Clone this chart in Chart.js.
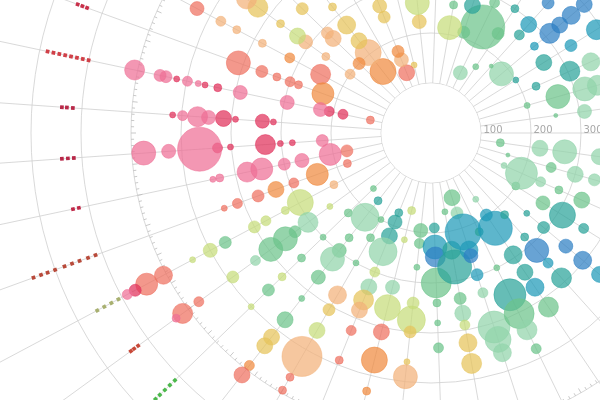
<!DOCTYPE html>
<html>
<head>
<meta charset="utf-8">
<script src="https://cdn.jsdelivr.net/npm/chart.js@4"></script>
<style>
  html, body { margin: 0; padding: 0; background: #fff; }
  #wrap { width: 600px; height: 400px; }
</style>
</head>
<body>
<div id="wrap"><canvas id="radial"></canvas></div>
<script>
// merkez ve yarıçap ölçeği (piksel = 50 + değer / 2)
const center = { x: 431, y: 133 };
const ringValues = [100, 200, 300, 400, 500, 600, 700];
const axisLabels = ['100', '200', '300'];
const tickRingValue = 500;

// renk paleti
const palette = {
    c: '#e0305a', p: '#ee6f95', s: '#ee7060', o: '#f08a40', q: '#f2b27a',
    y: '#e6c45a', l: '#c6dc7a', g: '#6cc48a', m: '#92d4ab', t: '#2ba39a',
    b: '#1f9ab8', u: '#2e7fc4'
};

// her kol (spoke) için açı, değerler, boyutlar ve renkler
const spokeAngles = [8, 16, 24, 32, 40, 48, 56, 64, 72, 80, 88, 96, 104, 112, 120, 128, 136, 144, 152, 160, 168, 176, 184, 192, 200, 208, 216, 224, 232, 248, 256, 264, 280, 288, 296, 304, 312, 320, 328, 336, 344, 352];
const bubbleValues = [
    [40, 120, 170, 240, 320, 440],
    [60, 150, 200, 240, 290, 340],
    [60, 98, 140, 180, 230, 300],
    [100, 164, 210, 260, 330],
    [150, 194, 252, 296, 340],
    [120, 180, 216, 250, 290],
    [60, 98, 130, 194, 236, 272, 320],
    [120, 200, 260, 302, 338, 380],
    [36, 68, 108, 146, 158, 198, 236, 308, 334, 362],
    [60, 138, 172, 236, 266, 290, 326, 368],
    [90, 128, 148, 200, 240, 280, 330],
    [96, 122, 170, 242, 276, 300, 360, 390],
    [60, 120, 218, 260, 310, 368, 432],
    [72, 92, 122, 156, 200, 232, 260, 282, 326, 390],
    [100, 142, 200, 274, 308, 356, 416, 464, 494],
    [72, 114, 166, 198, 220, 266, 320, 374, 418, 440, 490, 514],
    [60, 130, 200, 260, 314, 352, 400],
    [150, 204, 236, 260, 296, 334, 390, 474, 514, 530],
    [120, 196, 230, 274, 300, 366, 400, 440, 506, 544, 570, 588],
    [78, 142, 192, 230, 268, 312, 340],
    [72, 106, 164, 200, 246, 276, 332, 346],
    [118, 178, 202, 232, 302, 328, 364, 426, 476],
    [216, 238, 292, 316, 346, 368, 398, 418],
    [24, 80, 108, 126, 194, 290, 336, 362, 376, 398, 420, 442, 454, 506],
    [130, 182, 200, 228, 260, 310],
    [150, 220, 282, 340, 376, 430],
    [100, 160, 210, 230, 272, 328, 356],
    [100, 172, 188, 258, 300],
    [56, 104, 134, 174, 220],
    [30, 58, 76, 150, 174],
    [40],
    [124, 162],
    [114, 160],
    [112, 168, 220],
    [34, 136, 190],
    [60, 140, 200, 260],
    [80, 164, 192, 250],
    [84, 170, 210, 236, 266, 300],
    [100, 166, 230, 290],
    [130, 204, 250, 300],
    [100, 164, 220, 246],
    [152, 210, 300, 360]
];
const bubbleSizes = [
    [4, 8, 12, 8, 11, 8],
    [2, 5, 8, 6, 9, 6],
    [3, 16, 5, 4, 8, 7],
    [4, 7, 13, 5, 8],
    [3, 6, 7, 9, 8],
    [4, 4, 12, 5, 10],
    [3, 6, 17, 9, 8, 9, 10],
    [4, 3, 16, 15, 10, 5],
    [8, 6, 18, 9, 7, 6, 5, 16, 13, 9],
    [3, 9, 17, 6, 8, 5, 9, 10],
    [5, 12, 10, 15, 4, 3, 5],
    [7, 5, 3, 6, 14, 6, 3, 12],
    [4, 3, 7, 13, 8, 13, 4],
    [4, 7, 8, 14, 5, 8, 10, 8, 5, 4],
    [3, 4, 3, 9, 6, 8, 20, 4, 4],
    [4, 14, 4, 7, 12, 7, 3, 8, 8, 8, 5, 8],
    [3, 4, 3, 4, 4, 6, 3],
    [3, 10, 6, 12, 12, 5, 6, 5, 10, 4],
    [4, 13, 4, 5, 6, 6, 7, 3, 9, 11, 6, 5],
    [4, 11, 5, 8, 6, 5, 3],
    [6, 11, 7, 6, 11, 10, 4, 3],
    [6, 3, 3, 10, 3, 5, 22, 7, 12],
    [3, 7, 3, 8, 7, 10, 5, 3],
    [4, 5, 5, 7, 7, 7, 4, 3, 3, 5, 3, 6, 6, 10],
    [11, 4, 5, 4, 6, 12],
    [10, 5, 4, 4, 5, 7],
    [5, 4, 7, 8, 4, 10, 10],
    [6, 8, 6, 6, 5],
    [13, 13, 8, 9, 4],
    [8, 7, 6, 6, 7],
    [3],
    [7, 12],
    [12, 4],
    [6, 8, 6],
    [7, 22, 5],
    [3, 6, 4, 10],
    [2, 5, 8, 6],
    [12, 4, 10, 8, 9, 8],
    [3, 8, 6, 10],
    [4, 10, 9, 8],
    [3, 12, 12, 10],
    [2, 7, 9, 8]
];
const bubbleColors = [
    'gmmmmm', 'ggmmgm', 'mmmggg', 'ggttt', 'ttuub', 'ttubt', 'mbbttbg', 'tgtgmg',
    'gmbbubmmmm', 'gttgmlyy', 'tbuggggg', 'gggllyyq', 'llmlsoo', 'tttmlmyqss',
    'gggqylqss', 'tmggmgggyyoss', 'gggglgl', 'lmgggmlssp', 'qllllgllsscp', 'sososss',
    'sppppppp', 'pcccccppp', 'ccccpppc', 'sccpppccppcppp', 'osssss', 'soqqqs', 'qqqlyyq',
    'oqqyq', 'oqyyy', 'sqoyy', 'y', 'yl', 'lg', 'gtt', 'mgg', 'ggtt', 'gtbu', 'mbuuuu',
    'ttbb', 'ttmm', 'ggmm', 'gmmm'
];

// dış kenardaki küçük işaretler (rug)
const rugAngles = [200, 192, 184, 176, 168, 160, 152, 144, 136];
const rugValues = [
    [632, 642, 652],
    [600, 612, 624, 636, 648, 660, 672, 684],
    [618, 630, 640],
    [616, 628, 640],
    [620, 632],
    [614, 630, 648, 664, 680, 700, 716, 730, 746],
    [608, 624, 640, 656],
    [624, 634, 642],
    [612, 626, 640, 654, 666]
];
const rugColors = ['#c8304a', '#d04048', '#b82848', '#b82848', '#c02848', '#b84a3a', '#a8b070', '#c84838', '#4cb84c'];

function radiusOf(v) { return 50 + v / 2; }
function polar(angle, v) {
    const a = angle * Math.PI / 180;
    const r = radiusOf(v);
    return { x: center.x + r * Math.cos(a), y: center.y + r * Math.sin(a) };
}
function withAlpha(hex, a) {
    const n = parseInt(hex.slice(1), 16);
    return `rgba(${(n >> 16) & 255}, ${(n >> 8) & 255}, ${n & 255}, ${a})`;
}

const datasets = [];

rugAngles.forEach((ang, i) => {
    datasets.push({
        type: 'scatter',
        data: rugValues[i].map(v => polar(ang, v)),
        pointStyle: 'rect',
        pointRadius: 2.6,
        rotation: ang,
        backgroundColor: rugColors[i],
        borderWidth: 0
    });
});

spokeAngles.forEach((ang, i) => {
    const vals = bubbleValues[i];
    const cols = vals.map((v, j) => palette[bubbleColors[i][j]] || palette.g);
    datasets.push({
        type: 'bubble',
        data: vals.map((v, j) => {
            const p = polar(ang, v);
            return { x: p.x, y: p.y, r: bubbleSizes[i][j] };
        }),
        backgroundColor: cols.map(c => withAlpha(c, 0.72)),
        borderColor: cols.map(c => withAlpha(c, 0.85)),
        borderWidth: 0.6
    });
});

// arka plan: halkalar, kollar, ölçek çizgileri ve etiketler
const gridPlugin = {
    id: 'radialGrid',
    beforeDatasetsDraw(chart) {
        const ctx = chart.ctx;
        const xs = chart.scales.x, ys = chart.scales.y;
        const cx = xs.getPixelForValue(center.x), cy = ys.getPixelForValue(center.y);
        const unit = xs.getPixelForValue(1) - xs.getPixelForValue(0);
        ctx.save();
        ctx.strokeStyle = '#cfcfcf';
        ctx.lineWidth = 0.8;
        for (let k = 0; k < 45; k++) {
            const a = k * 8 * Math.PI / 180;
            ctx.beginPath();
            ctx.moveTo(cx + 50 * unit * Math.cos(a), cy + 50 * unit * Math.sin(a));
            ctx.lineTo(cx + 900 * Math.cos(a), cy + 900 * Math.sin(a));
            ctx.stroke();
        }
        ctx.beginPath();
        ctx.arc(cx, cy, 50 * unit, 0, Math.PI * 2);
        ctx.stroke();
        ringValues.forEach(v => {
            ctx.beginPath();
            ctx.arc(cx, cy, radiusOf(v) * unit, 0, Math.PI * 2);
            ctx.stroke();
        });
        // küçük çentikler
        const tr = radiusOf(tickRingValue) * unit;
        ctx.strokeStyle = '#bbbbbb';
        for (let d = 0; d < 360; d += 1.2) {
            const a = d * Math.PI / 180;
            const len = (Math.round(d / 1.2) % 5 === 0) ? 5 : 3;
            ctx.beginPath();
            ctx.moveTo(cx + tr * Math.cos(a), cy + tr * Math.sin(a));
            ctx.lineTo(cx + (tr - len) * Math.cos(a), cy + (tr - len) * Math.sin(a));
            ctx.stroke();
        }
        ctx.fillStyle = '#ffffff';
        ctx.beginPath();
        ctx.arc(cx, cy, 50 * unit - 0.5, 0, Math.PI * 2);
        ctx.fill();
        ctx.fillStyle = '#a8a8a8';
        ctx.font = '10px "DejaVu Sans", sans-serif';
        ctx.textAlign = 'center';
        ctx.textBaseline = 'middle';
        axisLabels.forEach(t => {
            const v = Number(t);
            ctx.fillText(t, cx + (radiusOf(v) - 38) * unit, cy - 3);
        });
        ctx.restore();
    }
};

new Chart(document.getElementById('radial'), {
    type: 'bubble',
    data: { datasets: datasets },
    options: {
        responsive: true,
        maintainAspectRatio: false,
        animation: false,
        layout: { padding: 0, autoPadding: false },
        plugins: { legend: { display: false }, tooltip: { enabled: false } },
        scales: {
            x: { type: 'linear', min: 0, max: 600, display: false },
            y: { type: 'linear', min: 0, max: 400, reverse: true, display: false }
        }
    },
    plugins: [gridPlugin]
});
</script>
</body>
</html>
